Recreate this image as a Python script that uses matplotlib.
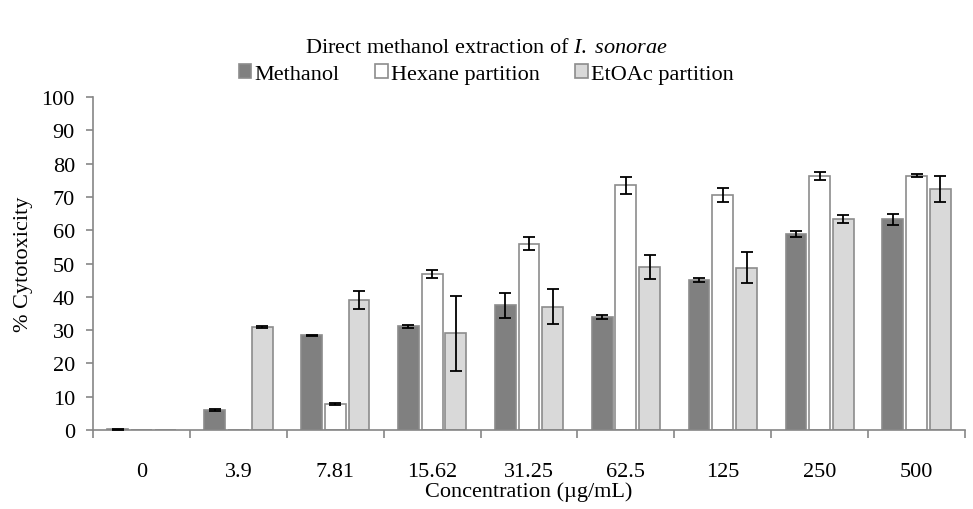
# Cytotoxicity bar chart - direct methanol extraction
import numpy as np
import matplotlib.pyplot as plt

plt.rcParams['font.family'] = ['Liberation Serif', 'DejaVu Serif']
plt.rcParams['mathtext.fontset'] = 'custom'
plt.rcParams['mathtext.rm'] = 'Liberation Serif'
plt.rcParams['mathtext.it'] = 'Liberation Serif:italic'

# Data
concentrations = ['0', '3.9', '7.81', '15.62', '31.25', '62.5', '125', '250', '500']
series_names = ['Methanol', 'Hexane partition', 'EtOAc partition']
methanol = [0.2, 6.0, 28.4, 31.1, 37.4, 33.8, 44.9, 59.0, 63.3]
methanol_err = [0.1, 0.3, 0.2, 0.5, 3.7, 0.6, 0.6, 0.9, 1.6]
hexane = [0.0, 0.0, 7.8, 46.8, 56.0, 73.5, 70.7, 76.4, 76.4]
hexane_err = [0.0, 0.0, 0.2, 1.2, 2.0, 2.5, 2.1, 1.2, 0.5]
etoac = [0.0, 30.9, 39.0, 29.0, 37.0, 49.0, 48.8, 63.3, 72.4]
etoac_err = [0.0, 0.4, 2.7, 11.2, 5.3, 3.7, 4.6, 1.2, 3.8]

values = [methanol, hexane, etoac]
errors = [methanol_err, hexane_err, etoac_err]
colors = ['#808080', '#ffffff', '#d9d9d9']
edge = '#8c8c8c'
fs = 16

fig = plt.figure(figsize=(9.73, 5.1), dpi=100)
ax = fig.add_axes([0.0956, 0.1549, 0.8962, 0.6529])

x = np.arange(len(concentrations))
step = 0.245
width = 0.215
for i in range(3):
    v = np.array(values[i])
    e = np.array(errors[i])
    xs = x + (i - 1) * step
    ax.bar(xs, v, width, color=colors[i], edgecolor=edge, linewidth=1.2,
           label=series_names[i], zorder=2)
    # only draw error bars where there is a measured value
    m = v > 0
    ax.errorbar(xs[m], v[m], yerr=e[m], fmt='none', ecolor='black',
                elinewidth=1.3, capsize=4.5, capthick=1.3, zorder=3)

ax.set_xlim(-0.5, len(concentrations) - 0.5)
ax.set_ylim(0, 100)
ax.set_yticks(np.arange(0, 101, 10))
ax.set_xticks(x)
ax.set_xticklabels(concentrations)
ax.set_xticks(np.arange(-0.5, len(concentrations), 1), minor=True)
ax.tick_params(axis='x', which='major', length=0, pad=23, labelsize=fs)
ax.tick_params(axis='x', which='minor', length=6, color='#868686', width=1.2)
ax.tick_params(axis='y', length=5, color='#868686', width=1.2, labelsize=fs, pad=8)

for s in ['top', 'right']:
    ax.spines[s].set_visible(False)
for s in ['left', 'bottom']:
    ax.spines[s].set_color('#868686')
    ax.spines[s].set_linewidth(1.2)

ax.set_xlabel('Concentration (µg/mL)', fontsize=fs, labelpad=0)
ax.set_ylabel('% Cytotoxicity', fontsize=fs, labelpad=6)

fig.text(0.5, 0.905, 'Direct methanol extraction of $\\mathit{I.}$ $\\mathit{sonorae}$',
         ha='center', va='center', fontsize=fs)
fig.legend(loc='center', bbox_to_anchor=(0.5, 0.853), ncol=3, frameon=False,
           fontsize=fs, handlelength=0.55, handleheight=0.55, handletextpad=0.15,
           columnspacing=1.6)

fig.savefig('out.png', dpi=100)
